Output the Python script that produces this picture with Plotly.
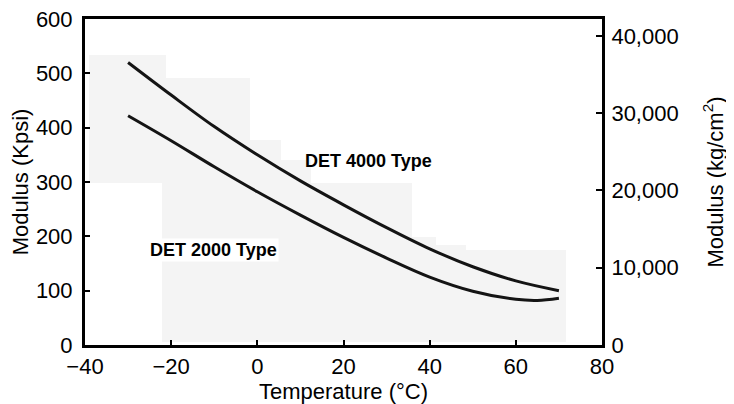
import plotly.graph_objects as go

# Data
temp_c = [-30, -20, -10, 0, 10, 20, 30, 40, 50, 60, 70]
det4000_kpsi = [520, 460, 402, 350, 302, 258, 216, 177, 144, 118, 100]
temp_c_2000 = [-30, -20, -10, 0, 10, 20, 30, 40, 50, 60, 65, 70]
det2000_kpsi = [422, 376, 328, 282, 239, 198, 160, 125, 99, 84, 82, 86]

x_ticks = [-40, -20, 0, 20, 40, 60, 80]
y_ticks = [0, 100, 200, 300, 400, 500, 600]
y2_ticks = [0, 10000, 20000, 30000, 40000]
KPSI_TO_KGCM2 = 70.307

FONT = "Liberation Sans, Arial, sans-serif"

fig = go.Figure()
fig.add_trace(go.Scatter(x=temp_c, y=det4000_kpsi, mode="lines",
                         line=dict(color="#141414", width=3, shape="spline"),
                         showlegend=False))
fig.add_trace(go.Scatter(x=temp_c_2000, y=det2000_kpsi, mode="lines",
                         line=dict(color="#141414", width=3, shape="spline"),
                         showlegend=False))
# invisible trace to activate the right axis
fig.add_trace(go.Scatter(x=[None], y=[None], yaxis="y2", showlegend=False))

# faint scan-like background patches (paper coordinates, from screen pixels)
W, H, L, TOP, BOT = 517.0, 326.0, 85.0, 19.0, 345.0
rects = [(89, 55, 166, 183), (162, 78, 250, 342), (250, 140, 281, 342),
         (281, 160, 311, 342), (311, 183, 412, 342), (412, 237, 436, 342),
         (436, 245, 466, 342), (466, 250, 566, 342)]
shapes = []
for x0, y0, x1, y1 in rects:
    shapes.append(dict(type="rect", xref="paper", yref="paper",
                       x0=(x0 - L) / W, x1=(x1 - L) / W,
                       y0=(BOT - y1) / H, y1=(BOT - y0) / H,
                       fillcolor="#f4f4f4", line=dict(width=0), layer="below"))

axis_common = dict(ticks="inside", tickwidth=2, tickcolor="black",
                   showline=True, linewidth=3, linecolor="black",
                   showgrid=False, zeroline=False, automargin=False,
                   ticklabeloverflow="allow",
                   tickfont=dict(size=22, color="black"))

fig.update_layout(
    width=734, height=404,
    # page body adds an 8px offset; margins compensate so the plot box
    # lands at x 85..602, y 19..345 in the screenshot
    margin=dict(l=77, r=140, t=11, b=67),
    paper_bgcolor="white", plot_bgcolor="white",
    font=dict(family=FONT, size=22, color="black"),
    shapes=shapes,
    xaxis=dict(range=[-40, 80], tickvals=x_ticks, ticklen=5, mirror=True,
               title=dict(text="Temperature (°C)", standoff=6,
                          font=dict(size=22)),
               **axis_common),
    yaxis=dict(range=[0, 600], tickvals=y_ticks, ticklen=5,
               ticklabelstandoff=5,
               title=dict(text="Modulus (Kpsi)", standoff=2, font=dict(size=22)),
               **axis_common),
    yaxis2=dict(range=[0, 600 * KPSI_TO_KGCM2], tickvals=y2_ticks,
                tickformat=",d", overlaying="y", side="right", ticklen=6,
                ticklabelstandoff=2,
                title=dict(text="Modulus (kg/cm<sup>2</sup>)", standoff=30,
                           font=dict(size=22)),
                **axis_common),
    annotations=[
        dict(x=25.8, y=338, xref="x", yref="y", text="<b>DET 4000 Type</b>",
             showarrow=False, font=dict(family=FONT, size=18, color="black")),
        dict(x=-10.2, y=175, xref="x", yref="y", text="<b>DET 2000 Type</b>",
             showarrow=False, bgcolor="white",
             font=dict(family=FONT, size=18, color="black")),
    ],
)

fig.write_html("out.html")
